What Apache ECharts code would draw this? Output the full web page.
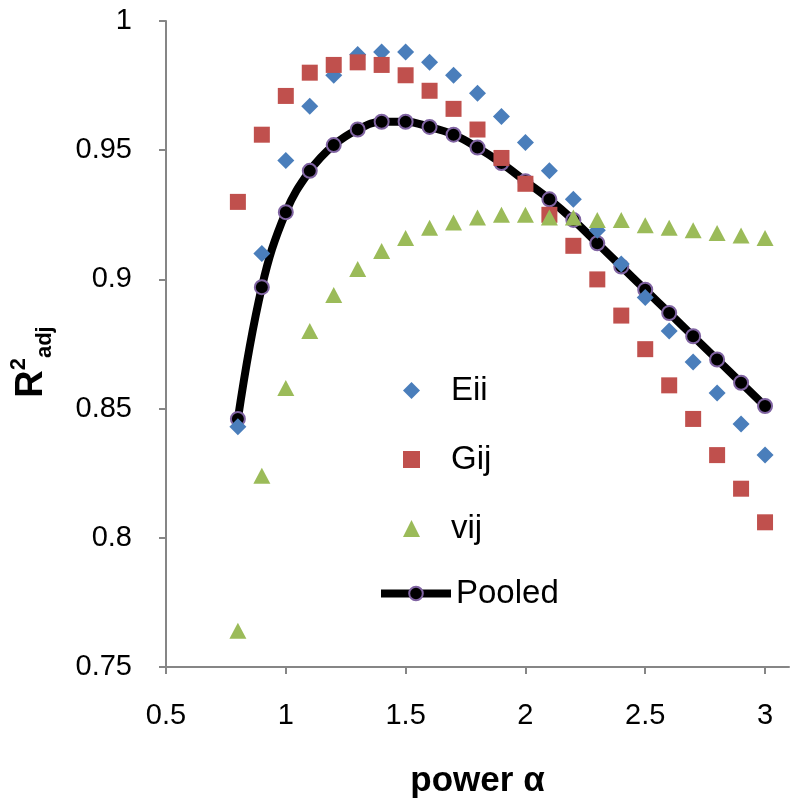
<!DOCTYPE html>
<html>
<head>
<meta charset="utf-8">
<script src="https://cdn.jsdelivr.net/npm/echarts@6/dist/echarts.min.js"></script>
<style>
html,body{margin:0;padding:0;background:#fff;}
#chart{width:800px;height:811px;}
</style>
</head>
<body>
<div id="chart"></div>
<script>
const alphas = [0.8,0.9,1.0,1.1,1.2,1.3,1.4,1.5,1.6,1.7,1.8,1.9,2.0,2.1,2.2,2.3,2.4,2.5,2.6,2.7,2.8,2.9,3.0];
const eii = [0.843,0.910,0.946,0.967,0.979,0.987,0.988,0.988,0.984,0.979,0.972,0.963,0.953,0.942,0.931,0.919,0.906,0.893,0.880,0.868,0.856,0.844,0.832];
const gij = [0.930,0.956,0.971,0.980,0.983,0.984,0.983,0.979,0.973,0.966,0.958,0.947,0.937,0.925,0.913,0.900,0.886,0.873,0.859,0.846,0.832,0.819,0.806];
const vij = [0.764,0.824,0.858,0.880,0.894,0.904,0.911,0.916,0.920,0.922,0.924,0.925,0.925,0.924,0.924,0.923,0.923,0.921,0.920,0.919,0.918,0.917,0.916];
const pooled = [0.846,0.897,0.926,0.942,0.952,0.958,0.961,0.961,0.959,0.956,0.951,0.945,0.938,0.931,0.923,0.914,0.905,0.896,0.887,0.878,0.869,0.860,0.851];
const xTicks = [0.5,1,1.5,2,2.5,3];
const seriesNames = ['Eii','Gij','vij','Pooled'];

const pairs = arr => alphas.map((a,i)=>[a, arr[i]]);
const axisColor = '#868686';
const font = '"Liberation Sans", Arial, sans-serif';

const chart = echarts.init(document.getElementById('chart'));
chart.setOption({
  animation: false,
  backgroundColor: '#ffffff',
  grid: {left: 162, right: 11, top: 21, bottom: 144, containLabel: false},
  xAxis: {
    type: 'value', min: 0.5, max: 3.1,
    axisLine: {show: true, lineStyle: {color: axisColor, width: 2}},
    axisTick: {show: true, inside: false, length: 7, customValues: xTicks, lineStyle: {color: axisColor, width: 2}},
    axisLabel: {customValues: xTicks, color: '#000', fontSize: 29, fontFamily: font, margin: 34},
    splitLine: {show: false},
    name: 'power α', nameLocation: 'middle', nameGap: 97,
    nameTextStyle: {fontSize: 35, fontWeight: 'bold', fontFamily: font, color: '#000'}
  },
  yAxis: {
    type: 'value', min: 0.75, max: 1, interval: 0.05,
    axisLine: {show: true, lineStyle: {color: axisColor, width: 2}},
    axisTick: {show: true, inside: false, length: 7, lineStyle: {color: axisColor, width: 2}},
    axisLabel: {color: '#000', fontSize: 29, fontFamily: font, margin: 34,
      formatter: v => String(Math.round(v*100)/100)},
    splitLine: {show: false},
    name: '{r|R}{s|2}{b|adj}', nameLocation: 'middle', nameRotate: 90, nameGap: 110,
    nameTextStyle: {
      padding: [0, 36, 0, 0],
      rich: {
        r: {fontSize: 38, fontWeight: 'bold', fontFamily: font, color: '#000', lineHeight: 48, verticalAlign: 'middle'},
        s: {fontSize: 22, fontWeight: 'bold', fontFamily: font, color: '#000', verticalAlign: 'top', lineHeight: 26},
        b: {fontSize: 22, fontWeight: 'bold', fontFamily: font, color: '#000', verticalAlign: 'bottom', lineHeight: 26}
      }
    }
  },
  legend: [
    {
      data: ['Eii','Gij','vij'], orient: 'vertical', left: 398, top: 369,
      itemWidth: 17, itemHeight: 17, itemGap: 36,
      textStyle: {fontSize: 33, fontFamily: font, color: '#000', lineHeight: 32, padding: [0,0,0,26]}
    },
    {
      data: ['Pooled'], orient: 'vertical', left: 372, top: 572,
      itemWidth: 70, itemHeight: 17,
      lineStyle: {width: 8, color: '#000'},
      textStyle: {fontSize: 33, fontFamily: font, color: '#000', lineHeight: 32}
    }
  ],
  series: [
    {
      name: 'Pooled', type: 'line', data: pairs(pooled), smooth: 0.4,
      symbol: 'circle', symbolSize: 14, showSymbol: true,
      lineStyle: {color: '#000', width: 8},
      itemStyle: {color: '#000', borderColor: '#8064A2', borderWidth: 2},
      z: 2
    },
    {
      name: 'Eii', type: 'scatter', data: pairs(eii),
      symbol: 'diamond', symbolSize: 17,
      itemStyle: {color: '#4A7EBB', opacity: 1}, z: 3
    },
    {
      name: 'Gij', type: 'scatter', data: pairs(gij),
      symbol: 'rect', symbolSize: 16,
      itemStyle: {color: '#C0504D', opacity: 1}, z: 3
    },
    {
      name: 'vij', type: 'scatter', data: pairs(vij),
      symbol: 'triangle', symbolSize: [17, 16],
      itemStyle: {color: '#9BBB59', opacity: 1}, z: 3
    }
  ]
});
</script>
</body>
</html>
